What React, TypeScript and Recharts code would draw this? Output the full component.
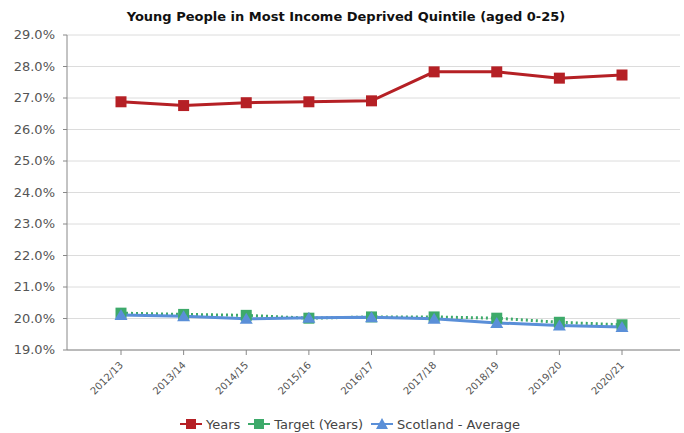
import React from "react";
import {
  LineChart,
  Line,
  XAxis,
  YAxis,
  CartesianGrid,
  Legend,
} from "recharts";

const years = [
  "2012/13",
  "2013/14",
  "2014/15",
  "2015/16",
  "2016/17",
  "2017/18",
  "2018/19",
  "2019/20",
  "2020/21",
];
const yearsValues = [26.88, 26.76, 26.85, 26.88, 26.91, 27.83, 27.83, 27.63, 27.73];
const targetValues = [20.17, 20.13, 20.1, 20.01, 20.05, 20.05, 20.01, 19.88, 19.8];
const scotlandValues = [20.11, 20.07, 19.99, 20.02, 20.04, 19.99, 19.86, 19.78, 19.73];
const yTicks = [19, 20, 21, 22, 23, 24, 25, 26, 27, 28, 29];

const RED = "#b52025";
const GREEN = "#3daa6a";
const BLUE = "#5a8fd8";

const data = years.map((year, i) => ({
  year,
  years: yearsValues[i],
  target: targetValues[i],
  scotland: scotlandValues[i],
}));

const font = "Tahoma, Verdana, 'DejaVu Sans', sans-serif";

function SquareDot(props: any) {
  const { cx, cy, fill } = props;
  if (cx == null || cy == null) return null;
  return <rect x={cx - 5.5} y={cy - 5.5} width={11} height={11} fill={fill} />;
}

function TriangleDot(props: any) {
  const { cx, cy, fill } = props;
  if (cx == null || cy == null) return null;
  return (
    <path
      d={`M${cx},${cy - 6} L${cx + 6.5},${cy + 5} L${cx - 6.5},${cy + 5} Z`}
      fill={fill}
    />
  );
}

function XTick(props: any) {
  const { x, y, payload } = props;
  return (
    <g transform={`translate(${x},${y + 6})`}>
      <text
        transform="rotate(-45)"
        textAnchor="end"
        dy={4}
        fontSize={10}
        fill="#555"
        fontFamily={font}
      >
        {payload.value}
      </text>
    </g>
  );
}

function YTick(props: any) {
  const { x, y, payload } = props;
  return (
    <text
      x={x - 6}
      y={y}
      dy={4}
      textAnchor="end"
      fontSize={13}
      fill="#555"
      fontFamily={font}
    >
      {`${payload.value.toFixed(1)}%`}
    </text>
  );
}

const legendItems = [
  { label: "Years", color: RED, shape: "square" },
  { label: "Target (Years)", color: GREEN, shape: "square" },
  { label: "Scotland - Average", color: BLUE, shape: "triangle" },
];

function LegendContent() {
  return (
    <div
      style={{
        display: "flex",
        justifyContent: "center",
        gap: 8,
        fontFamily: font,
        fontSize: 13,
        color: "#444",
        marginLeft: 20,
        height: 18,
        alignItems: "center",
      }}
    >
      {legendItems.map((it) => (
        <div key={it.label} style={{ display: "flex", alignItems: "center" }}>
          <svg width={22} height={12} style={{ marginRight: 4 }}>
            <line x1={0} y1={6} x2={22} y2={6} stroke={it.color} strokeWidth={2} />
            {it.shape === "square" ? (
              <rect x={6} y={1} width={10} height={10} fill={it.color} />
            ) : (
              <path d="M11,0 L17,11 L5,11 Z" fill={it.color} />
            )}
          </svg>
          <span>{it.label}</span>
        </div>
      ))}
    </div>
  );
}

export default function App() {
  return (
    <div
      style={{
        position: "absolute",
        left: 0,
        top: 0,
        width: 684,
        height: 433,
        background: "#fff",
      }}
    >
      <div
        style={{
          position: "absolute",
          left: 0,
          top: 9,
          width: 684,
          textAlign: "center",
          fontFamily: font,
          fontWeight: "bold",
          fontSize: 13,
          color: "#111",
          paddingLeft: 4,
        }}
      >
        Young People in Most Income Deprived Quintile (aged 0-25)
      </div>
      <LineChart
        width={684}
        height={433}
        data={data}
        margin={{ top: 35, right: 4, bottom: 0, left: 0 }}
      >
        <CartesianGrid vertical={false} stroke="#dcdcdc" />
        <XAxis
          dataKey="year"
          type="category"
          padding={{ left: 54, right: 58 }}
          tick={<XTick />}
          tickLine={{ stroke: "#888" }}
          axisLine={{ stroke: "#888" }}
          tickSize={5}
          interval={0}
          height={65}
        />
        <YAxis
          domain={[19, 29]}
          ticks={yTicks}
          tick={<YTick />}
          tickLine={{ stroke: "#888" }}
          axisLine={{ stroke: "#888" }}
          tickSize={4}
          width={67}
          interval={0}
        />
        <Legend verticalAlign="bottom" height={18} content={<LegendContent />} />
        <Line
          dataKey="target"
          stroke={GREEN}
          strokeWidth={3}
          strokeDasharray="2 3"
          dot={<SquareDot fill={GREEN} />}
          activeDot={false}
          isAnimationActive={false}
        />
        <Line
          dataKey="scotland"
          stroke={BLUE}
          strokeWidth={3}
          dot={<TriangleDot fill={BLUE} />}
          activeDot={false}
          isAnimationActive={false}
        />
        <Line
          dataKey="years"
          stroke={RED}
          strokeWidth={3}
          dot={<SquareDot fill={RED} />}
          activeDot={false}
          isAnimationActive={false}
        />
      </LineChart>
    </div>
  );
}
